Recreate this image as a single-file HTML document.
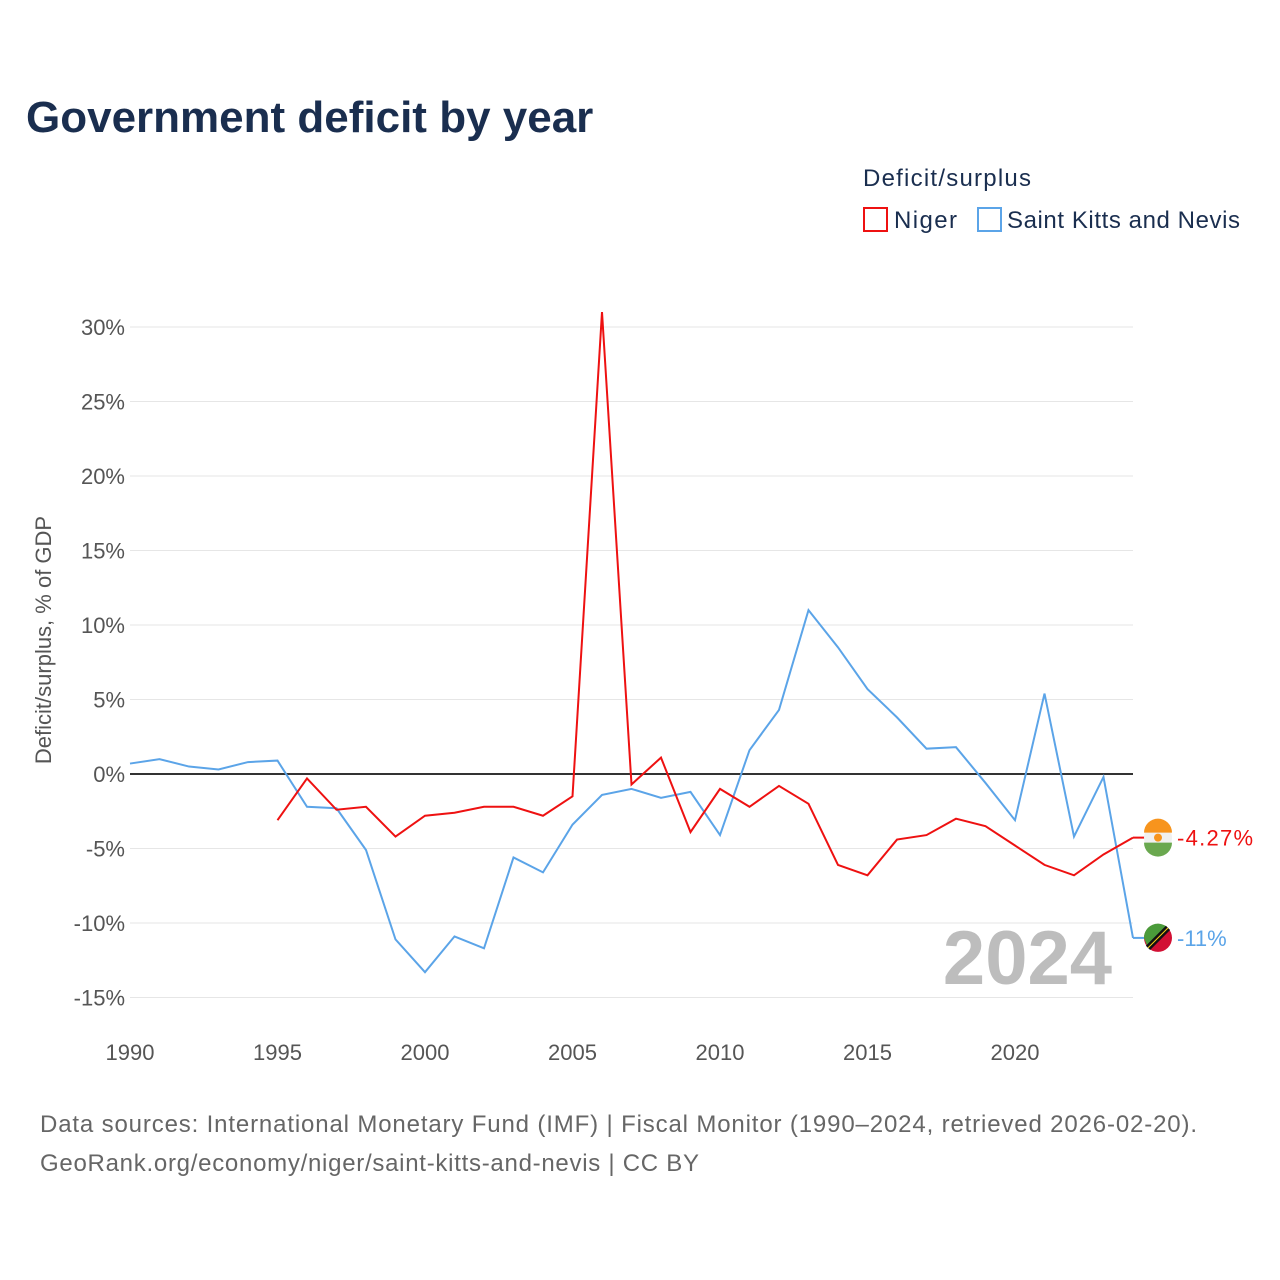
<!DOCTYPE html>
<html><head><meta charset="utf-8">
<style>
body{margin:0;background:#fff;font-family:"Liberation Sans",sans-serif;}
#wrap{position:relative;width:1280px;height:1280px;overflow:hidden;}
</style></head>
<body><div id="wrap">
<svg id="svg" width="1280" height="1280" xmlns="http://www.w3.org/2000/svg">
<text x="26" y="132" font-size="44" font-weight="bold" fill="#1a2e4f">Government deficit by year</text>
<text x="863" y="186" font-size="24" fill="#1a2e4f" textLength="168">Deficit/surplus</text>
<g><rect x="864" y="208" width="23" height="23" fill="none" stroke="#ee1111" stroke-width="2"/><text x="894" y="228" font-size="24" fill="#1a2e4f" textLength="63">Niger</text></g>
<g><rect x="978" y="208" width="23" height="23" fill="none" stroke="#5ba4e8" stroke-width="2"/><text x="1007" y="228" font-size="24" fill="#1a2e4f" textLength="233">Saint Kitts and Nevis</text></g>
<text transform="translate(51,640) rotate(-90)" text-anchor="middle" font-size="22" fill="#555">Deficit/surplus, % of GDP</text>
<g id="grid"></g><g id="marks"></g>
<text x="1112" y="984" text-anchor="end" font-size="76" font-weight="bold" fill="#bdbdbd">2024</text>
<text x="40" y="1132" font-size="24" fill="#666" textLength="1157">Data sources: International Monetary Fund (IMF) | Fiscal Monitor (1990–2024, retrieved 2026-02-20).</text>
<text x="40" y="1171" font-size="24" fill="#666" textLength="659">GeoRank.org/economy/niger/saint-kitts-and-nevis | CC BY</text>
</svg></div>
<script>
const years=[1990,1991,1992,1993,1994,1995,1996,1997,1998,1999,2000,2001,2002,2003,2004,2005,2006,2007,2008,2009,2010,2011,2012,2013,2014,2015,2016,2017,2018,2019,2020,2021,2022,2023,2024];
const kitts=[0.7,1.0,0.5,0.3,0.8,0.9,-2.2,-2.3,-5.1,-11.1,-13.3,-10.9,-11.7,-5.6,-6.6,-3.4,-1.4,-1.0,-1.6,-1.2,-4.1,1.6,4.3,11.0,8.5,5.7,3.8,1.7,1.8,-0.6,-3.1,5.4,-4.2,-0.2,-11.0];
const niger=[null,null,null,null,null,-3.1,-0.3,-2.4,-2.2,-4.2,-2.8,-2.6,-2.2,-2.2,-2.8,-1.5,31.0,-0.7,1.1,-3.9,-1.0,-2.2,-0.8,-2.0,-6.1,-6.8,-4.4,-4.1,-3.0,-3.5,-4.8,-6.1,-6.8,-5.4,-4.27];
const yTicks=[-15,-10,-5,0,5,10,15,20,25,30];
const xTicks=[1990,1995,2000,2005,2010,2015,2020];
const NS='http://www.w3.org/2000/svg';
const X=y=>130+(y-1990)*(1133-130)/34;
const Y=v=>774-v*(774-327)/30;
function el(t,a,p){const e=document.createElementNS(NS,t);for(const k in a)e.setAttribute(k,a[k]);p.appendChild(e);return e;}
const grid=document.getElementById('grid'),marks=document.getElementById('marks');
yTicks.forEach(v=>{
 const l=el('line',{x1:130,x2:1133,y1:Y(v),y2:Y(v),stroke:v===0?'#333':'#e6e6e6','stroke-width':v===0?2:1},grid);
 
 
 const t=el('text',{x:125,y:Y(v)+8,'text-anchor':'end','font-size':22,fill:'#555'},grid);
 t.textContent=v+'%';
 
 
});
xTicks.forEach(v=>{
 const t=el('text',{x:X(v),y:1060,'text-anchor':'middle','font-size':22,fill:'#555'},grid);
 t.textContent=v;
 
 
});
function line(vals,color,name){
 let d='';vals.forEach((v,i)=>{if(v===null)return;d+=(d?'L':'M')+X(years[i])+','+Y(v);});
 const p=el('path',{d:d,fill:'none',stroke:color,'stroke-width':2},marks);
 
 
}
line(kitts,'#5ba4e8','line-saint-kitts');
line(niger,'#ee1111','line-niger');
const nl=niger[niger.length-1],kl=kitts[kitts.length-1];
const g1=el('g',{},marks);


el('line',{x1:1133,x2:1145,y1:Y(nl),y2:Y(nl),stroke:'#ee1111','stroke-width':2},g1);
el('circle',{cx:1158,cy:Y(nl),r:14,fill:'#f0f0f0'},g1);
el('path',{d:`M1144,${Y(nl)-5} a14,14 0 0 1 28,0 z`,fill:'#f7941d'},g1);
el('path',{d:`M1144,${Y(nl)+5} a14,14 0 0 0 28,0 z`,fill:'#6aa84f'},g1);
el('circle',{cx:1158,cy:Y(nl),r:4,fill:'#f7941d'},g1);
const t1=el('text',{x:1177,y:Y(nl)+8,'font-size':22,fill:'#ee1111',textLength:76},g1);t1.textContent=nl+'%';
const g2=el('g',{},marks);


el('line',{x1:1133,x2:1145,y1:Y(kl),y2:Y(kl),stroke:'#5ba4e8','stroke-width':2},g2);
el('circle',{cx:1158,cy:Y(kl),r:14,fill:'#d21034'},g2);
el('path',{d:`M1144,${Y(kl)} a14,14 0 0 1 24,-10 L1148,${Y(kl)+10} z`,fill:'#4a9b3a'},g2);
el('line',{x1:1148,y1:Y(kl)+10,x2:1168,y2:Y(kl)-10,stroke:'#111','stroke-width':6},g2);
el('line',{x1:1148,y1:Y(kl)+10,x2:1168,y2:Y(kl)-10,stroke:'#fcd116','stroke-width':1},g2);
const t2=el('text',{x:1177,y:Y(kl)+8,'font-size':22,fill:'#5ba4e8'},g2);t2.textContent=Math.round(kl)+'%';
</script>
</body></html>
